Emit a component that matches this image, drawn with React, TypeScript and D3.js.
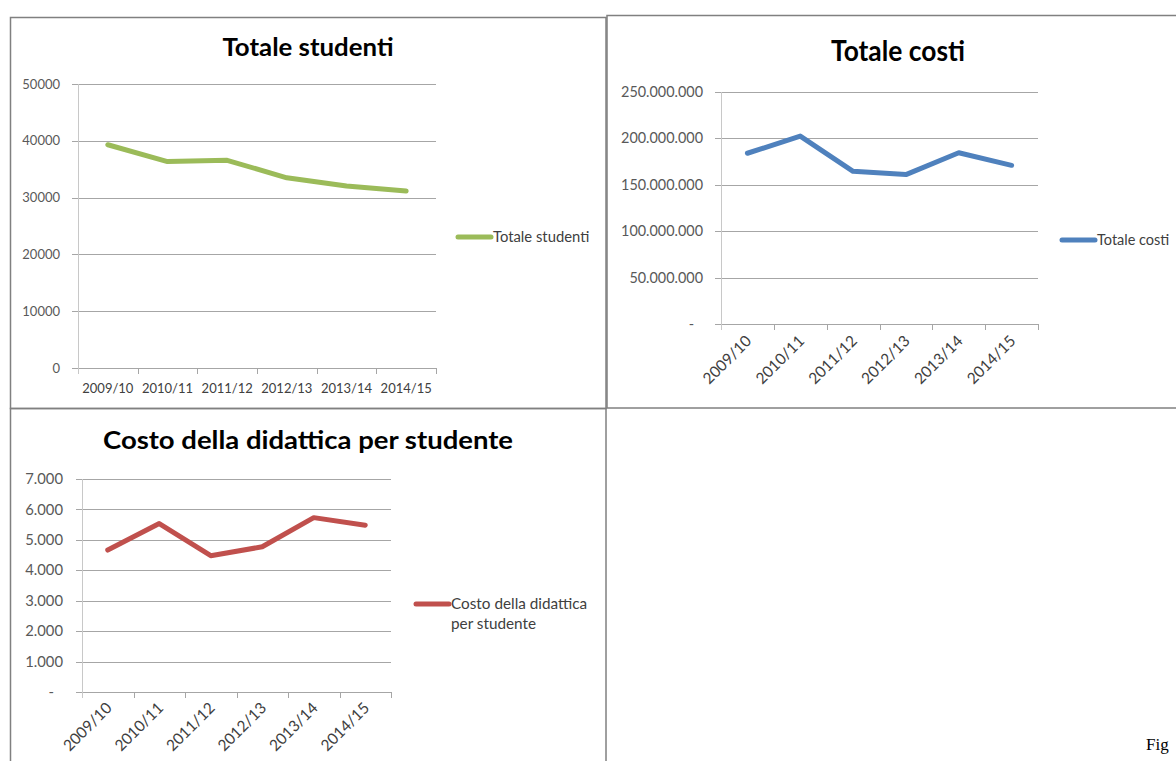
import React from "react";
import * as d3 from "d3";

const categories = ["2009/10", "2010/11", "2011/12", "2012/13", "2013/14", "2014/15"];
const studenti = [39300, 36340, 36560, 33490, 32030, 31150];
const costi = [184000000, 202500000, 164500000, 161000000, 184500000, 171000000];
const costoPerStudente = [4664, 5535, 4480, 4772, 5730, 5480];

const ticksStudenti = [0, 10000, 20000, 30000, 40000, 50000];
const ticksCosti = [0, 50000000, 100000000, 150000000, 200000000, 250000000];
const ticksCostoPS = [0, 1000, 2000, 3000, 4000, 5000, 6000, 7000];

const itLocale = d3.formatLocale({ decimal: ",", thousands: ".", grouping: [3], currency: ["€", ""] });
const fmtDot = (v: number) => (v === 0 ? "-" : itLocale.format(",d")(v));
const fmtPlain = (v: number) => d3.format("d")(v);

const FONT = "Lato, 'Open Sans', sans-serif";

type ChartProps = {
  title: string;
  titleX: number;
  titleY: number;
  titleSize: number;
  titleLen: number;
  values: number[];
  ticks: number[];
  fmt: (v: number) => string;
  x0: number;
  x1: number;
  yTop: number;
  yBot: number;
  color: string;
  labelRight: number;
  ySize: number;
  xSize: number;
  legendSize: number;
  rotate: boolean;
  xLabelY: number;
  legendX: number;
  legendY: number;
  legendLines: string[];
};

function LineChart(p: ChartProps) {
  const x = d3.scaleBand<string>().domain(categories).range([p.x0, p.x1]).paddingInner(0).paddingOuter(0);
  const y = d3.scaleLinear().domain([p.ticks[0], p.ticks[p.ticks.length - 1]]).range([p.yBot, p.yTop]);
  const cx = (c: string) => (x(c) as number) + x.bandwidth() / 2;
  const line = d3
    .line<number>()
    .x((_, i) => cx(categories[i]))
    .y((d) => y(d));
  const boundaries = categories.map((c) => x(c) as number).concat([p.x1]);
  const r = (v: number) => Math.round(v) + 0.5;
  return (
    <g>
      <text
        x={p.titleX}
        y={p.titleY}
        textAnchor="middle"
        fontFamily={FONT}
        fontWeight="bold"
        fontSize={p.titleSize}
        textLength={p.titleLen}
        lengthAdjust="spacingAndGlyphs"
        fill="#000"
      >
        {p.title}
      </text>
      {p.ticks.map((t) => (
        <g key={t}>
          <line x1={p.x0 - 6} x2={p.x1} y1={r(y(t))} y2={r(y(t))} stroke="#a6a6a6" strokeWidth={1} />
          <text
            x={p.labelRight + (p.fmt(t) === "-" ? -9 : 0)}
            y={y(t)}
            dy="0.35em"
            textAnchor="end"
            fontFamily={FONT}
            fontSize={p.ySize}
            fill="#595959"
          >
            {p.fmt(t)}
          </text>
        </g>
      ))}
      <line x1={r(p.x0)} x2={r(p.x0)} y1={p.yTop} y2={p.yBot + 6} stroke="#c8c8c8" strokeWidth={1} />
      {boundaries.slice(1).map((b, i) => (
        <line key={i} x1={r(b)} x2={r(b)} y1={p.yBot} y2={p.yBot + 6} stroke="#a6a6a6" strokeWidth={1} />
      ))}
      {categories.map((c) =>
        p.rotate ? (
          <text
            key={c}
            transform={`translate(${cx(c) + 5},${p.xLabelY}) rotate(-45)`}
            textAnchor="end"
            fontFamily={FONT}
            fontSize={p.xSize}
            fill="#404040"
          >
            {c}
          </text>
        ) : (
          <text key={c} x={cx(c)} y={p.xLabelY} textAnchor="middle" fontFamily={FONT} fontSize={p.xSize} fill="#404040">
            {c}
          </text>
        )
      )}
      <path d={line(p.values) as string} fill="none" stroke={p.color} strokeWidth={5} strokeLinejoin="round" strokeLinecap="round" />
      <line x1={p.legendX} x2={p.legendX + 33} y1={p.legendY} y2={p.legendY} stroke={p.color} strokeWidth={5} strokeLinecap="round" />
      {p.legendLines.map((l, i) => (
        <text key={i} x={p.legendX + 35} y={p.legendY + i * 20} dy="0.35em" fontFamily={FONT} fontSize={p.legendSize} fill="#404040">
          {l}
        </text>
      ))}
    </g>
  );
}

export default function App() {
  return (
    <svg width={1176} height={761} style={{ position: "absolute", left: 0, top: 0, background: "#fff" }}>
      <rect x={0} y={0} width={1176} height={761} fill="#fff" />
      <rect x={10.5} y={17.5} width={595.5} height={391} fill="none" stroke="#808080" strokeWidth={1.5} />
      <rect x={607} y={15.5} width={600} height={392.5} fill="none" stroke="#808080" strokeWidth={1.5} />
      <rect x={10.5} y={408.5} width={595.5} height={400} fill="none" stroke="#808080" strokeWidth={1.5} />

      <LineChart
        title="Totale studenti"
        titleX={308}
        titleY={56}
        titleSize={24}
        titleLen={171}
        values={studenti}
        ticks={ticksStudenti}
        fmt={fmtPlain}
        x0={78}
        x1={436}
        yTop={84}
        yBot={368}
        color="#9BBB59"
        labelRight={60}
        ySize={13}
        xSize={13}
        legendSize={14.8}
        rotate={false}
        xLabelY={393}
        legendX={458}
        legendY={237}
        legendLines={["Totale studenti"]}
      />
      <LineChart
        title="Totale costi"
        titleX={898}
        titleY={61}
        titleSize={29}
        titleLen={134}
        values={costi}
        ticks={ticksCosti}
        fmt={fmtDot}
        x0={721}
        x1={1038}
        yTop={92}
        yBot={324}
        color="#4F81BD"
        labelRight={703}
        ySize={14.4}
        xSize={15.5}
        legendSize={14.5}
        rotate={true}
        xLabelY={342}
        legendX={1062}
        legendY={240}
        legendLines={["Totale costi"]}
      />
      <LineChart
        title="Costo della didattica per studente"
        titleX={308}
        titleY={449}
        titleSize={25}
        titleLen={410}
        values={costoPerStudente}
        ticks={ticksCostoPS}
        fmt={fmtDot}
        x0={82}
        x1={391}
        yTop={479}
        yBot={692}
        color="#C0504D"
        labelRight={63}
        ySize={14.8}
        xSize={15.5}
        legendSize={15.3}
        rotate={true}
        xLabelY={709}
        legendX={416}
        legendY={604}
        legendLines={["Costo della didattica", "per studente"]}
      />
      <text x={1146} y={750} fontFamily="'Liberation Serif', 'Times New Roman', serif" fontSize={17} fill="#000">
        Fig
      </text>
    </svg>
  );
}
